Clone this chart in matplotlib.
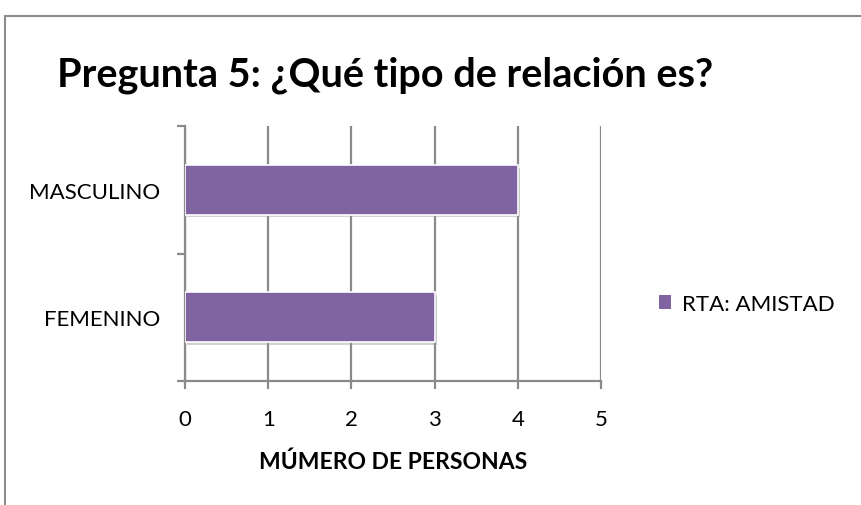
import matplotlib.pyplot as plt
import matplotlib.patheffects as pe
from matplotlib.patches import Rectangle

categories = ['FEMENINO', 'MASCULINO']
values = [3, 4]
series_name = 'RTA: AMISTAD'
x_ticks = [0, 1, 2, 3, 4, 5]

plt.rcParams['font.family'] = ['Lato', 'DejaVu Sans']

fig = plt.figure(figsize=(8.61, 5.06), dpi=100)
fig.patch.set_facecolor('white')

# outer chart frame (only left and top edges are visible in the reference)
fig.patches.append(Rectangle((5 / 861, -0.1), 1.2, 1 - 17 / 506 + 0.1,
                             transform=fig.transFigure, fill=False,
                             edgecolor='#8c8c8c', linewidth=1.5))

ax = fig.add_axes([185 / 861, 1 - 382 / 506, 416 / 861, 255 / 506])

grid_col = '#8a8a8a'
bars = ax.barh(range(len(categories)), values, height=0.39, color='#8064A2',
               edgecolor='white', linewidth=1.2, label=series_name, zorder=3)
for b in bars:
    b.set_path_effects([pe.SimplePatchShadow(offset=(1.5, -2), shadow_rgbFace='#999999', alpha=0.45),
                        pe.Normal()])

ax.set_xlim(0, 5)
ax.set_ylim(-0.5, 1.5)
ax.set_xticks(x_ticks)
ax.set_yticks([-0.5, 0.5, 1.5])
ax.set_yticklabels([])
ax.set_yticks(range(len(categories)), minor=True)
ax.set_yticklabels(categories, minor=True, fontsize=16)
ax.tick_params(axis='y', which='minor', length=0, pad=18)
ax.tick_params(axis='y', which='major', length=6, width=1.6, color=grid_col)
ax.tick_params(axis='x', length=6, width=1.6, color=grid_col, labelsize=16, pad=14)

ax.grid(axis='x', color=grid_col, linewidth=1.6, zorder=0)
ax.set_axisbelow(True)
for side in ['top', 'right']:
    ax.spines[side].set_visible(False)
for side in ['left', 'bottom']:
    ax.spines[side].set_color(grid_col)
    ax.spines[side].set_linewidth(1.6)

ax.set_xlabel('MÚMERO DE PERSONAS', fontsize=16.5, fontweight='bold', labelpad=16)

fig.text(57 / 861, 1 - 75 / 506, 'Pregunta 5: ¿Qué tipo de relación es?',
         fontsize=28.5, fontweight='bold', va='center', ha='left')

leg = ax.legend(loc='center left', bbox_to_anchor=(639 / 861, 1 - 305 / 506),
                bbox_transform=fig.transFigure, frameon=False, fontsize=16,
                handlelength=0.55, handleheight=0.55, handletextpad=0.5)
for h in leg.legend_handles:
    h.set_path_effects([])
    h.set_edgecolor('none')

fig.savefig('out.png', dpi=100)
